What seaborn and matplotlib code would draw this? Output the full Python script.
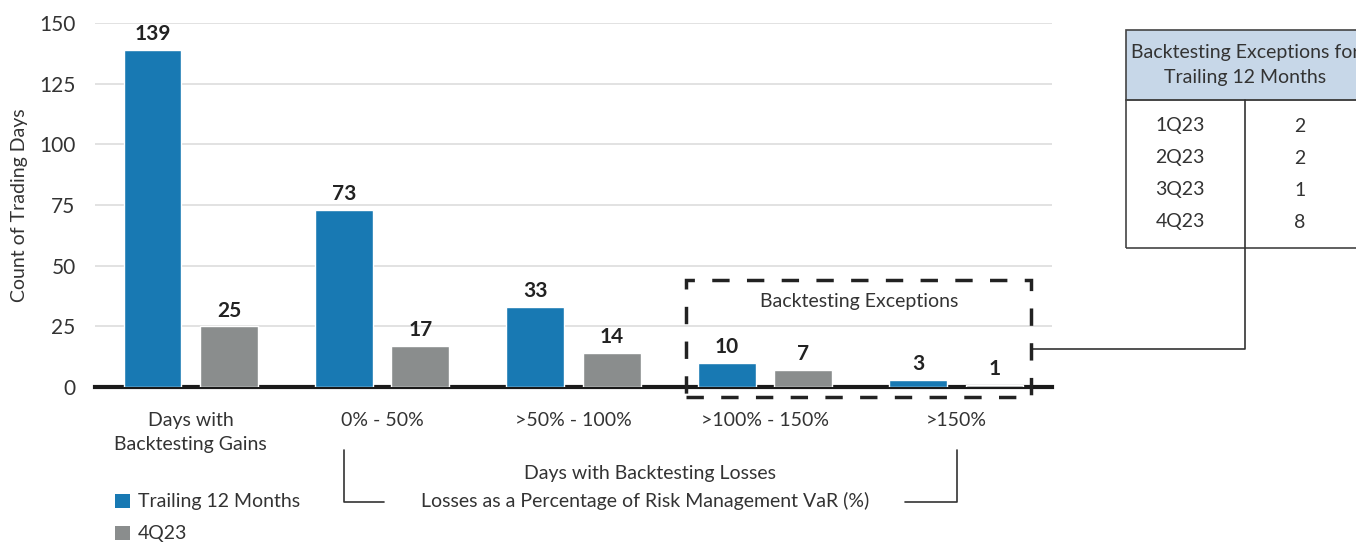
import numpy as np
import pandas as pd
import seaborn as sns
import matplotlib
matplotlib.use('Agg')
import matplotlib.pyplot as plt
from matplotlib.patches import Rectangle
from matplotlib.lines import Line2D

# data
categories = ['Days with\nBacktesting Gains', '0% - 50%', '>50% - 100%', '>100% - 150%', '>150%']
series = ['Trailing 12 Months', '4Q23']
trailing_12m = [139, 73, 33, 10, 3]
q4_23 = [25, 17, 14, 7, 1]
table_quarters = ['1Q23', '2Q23', '3Q23', '4Q23']
table_exceptions = [2, 2, 1, 8]

blue = '#1879b3'
gray = '#8a8d8d'
header_fill = '#c7d7e8'
text_col = '#333333'

df = pd.DataFrame({
    'category': categories * 2,
    'series': [series[0]] * len(categories) + [series[1]] * len(categories),
    'days': trailing_12m + q4_23,
})

sns.set_theme(style='white')
plt.rcParams['font.family'] = ['Lato', 'DejaVu Sans']

W, H = 1356, 542
fig = plt.figure(figsize=(W / 100, H / 100), dpi=100)

def fx(x):
    return x / W

def fy(y):
    return 1 - y / H

ax = fig.add_axes([fx(95), fy(387), fx(1052) - fx(95), fy(23) - fy(387)])

sns.barplot(data=df, x='category', y='days', hue='series', order=categories,
            hue_order=series, palette=[blue, gray], width=0.8, gap=0.245,
            saturation=1, legend=False, ax=ax, zorder=3)

for cont in ax.containers:
    ax.bar_label(cont, padding=4, fontsize=15, fontweight='bold', color='#222222')

ax.set_xlim(-0.5, 4.5)
ax.set_ylim(0, 150)
ax.set_yticks(np.arange(0, 151, 25))
ax.yaxis.grid(True, color='#dddddd', linewidth=1.2, zorder=0)
ax.set_axisbelow(True)
for s in ['top', 'right', 'left']:
    ax.spines[s].set_visible(False)
ax.spines['bottom'].set_color('#1a1a1a')
ax.spines['bottom'].set_linewidth(3)
ax.spines['bottom'].set_zorder(1)
ax.tick_params(axis='y', length=0, pad=14, labelsize=15, labelcolor=text_col)
ax.tick_params(axis='x', length=0, pad=18, labelsize=14, labelcolor=text_col)
ax.set_xlabel('')
ax.set_ylabel('')
for lbl in ax.get_xticklabels():
    lbl.set_linespacing(1.5)

fig.text(fx(20), fy(205), 'Count of Trading Days', rotation=90, ha='center', va='center',
         fontsize=14, color=text_col)

# dashed box around backtesting exceptions
tf = fig.transFigure
fig.add_artist(Rectangle((fx(686), fy(397)), fx(1031) - fx(686), fy(280) - fy(397),
                         transform=tf, fill=False, edgecolor='#222222',
                         linewidth=2.5, linestyle=(0, (5, 5)), zorder=5))
fig.text(fx(859), fy(302), 'Backtesting Exceptions', ha='center', va='center',
         fontsize=14, color=text_col)

# connector to table
fig.add_artist(Line2D([fx(1033), fx(1245), fx(1245)], [fy(349), fy(349), fy(100)],
                      transform=tf, color='#333333', linewidth=1.2))

# table
fig.add_artist(Rectangle((fx(1126), fy(100)), fx(1360) - fx(1126), fy(30) - fy(100),
                         transform=tf, facecolor=header_fill, edgecolor='#444444',
                         linewidth=1.2))
fig.add_artist(Rectangle((fx(1126), fy(248)), fx(1360) - fx(1126), fy(100) - fy(248),
                         transform=tf, facecolor='none', edgecolor='#444444',
                         linewidth=1.2))
fig.text(fx(1245), fy(65), 'Backtesting Exceptions for\nTrailing 12 Months', ha='center',
         va='center', fontsize=14, color=text_col, linespacing=1.55)
for i, (q, v) in enumerate(zip(table_quarters, table_exceptions)):
    y = 126 + i * 32
    fig.text(fx(1180), fy(y), q, ha='center', va='center', fontsize=14, color=text_col)
    fig.text(fx(1300), fy(y), str(v), ha='center', va='center', fontsize=14, color=text_col)

# bottom bracket for losses
fig.add_artist(Line2D([fx(344), fx(344), fx(384)], [fy(450), fy(502), fy(502)],
                      transform=tf, color='#333333', linewidth=1.2))
fig.add_artist(Line2D([fx(905), fx(957), fx(957)], [fy(502), fy(502), fy(450)],
                      transform=tf, color='#333333', linewidth=1.2))
fig.text(fx(650), fy(474), 'Days with Backtesting Losses', ha='center', va='center',
         fontsize=14, color=text_col)
fig.text(fx(645), fy(501), 'Losses as a Percentage of Risk Management VaR (%)', ha='center',
         va='center', fontsize=14, color=text_col)

# legend
for y, c, name in [(501, blue, series[0]), (533, gray, series[1])]:
    fig.add_artist(Rectangle((fx(115), fy(y + 7)), fx(130) - fx(115), fy(y - 7) - fy(y + 7),
                             transform=tf, facecolor=c, edgecolor='none'))
    fig.text(fx(138), fy(y), name, ha='left', va='center', fontsize=14, color=text_col)

fig.savefig('out.png', dpi=100)
